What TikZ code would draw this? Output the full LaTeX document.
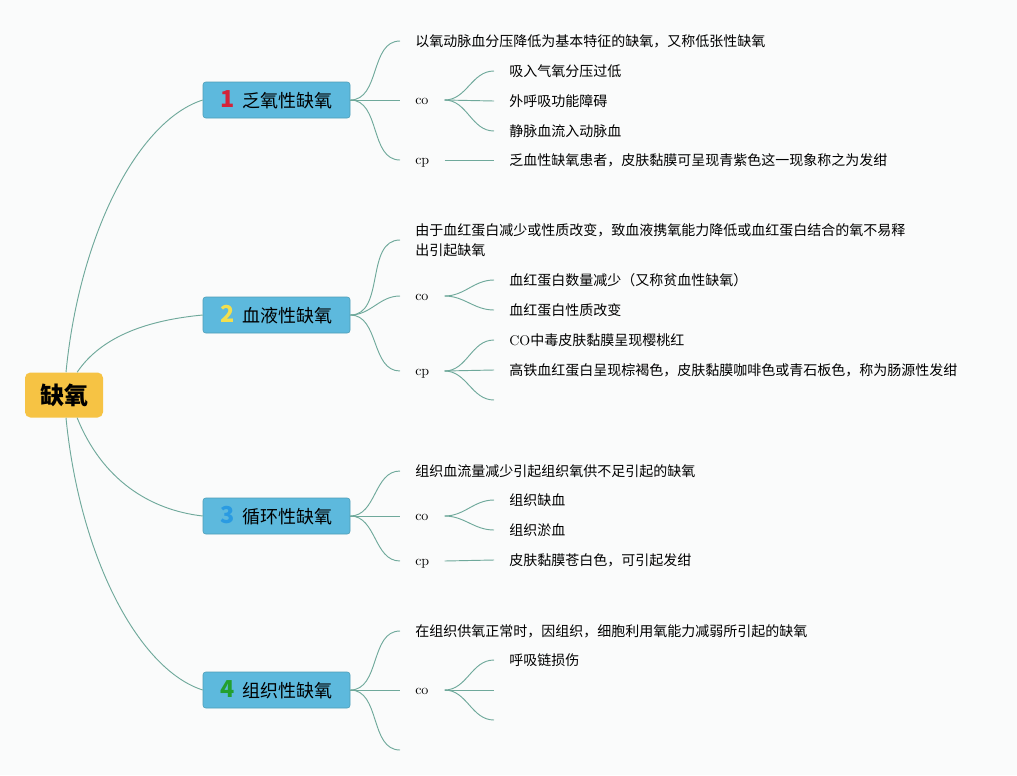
\documentclass[tikz,border=0pt]{standalone}
\usepackage{fontspec}
\newfontfamily\cjk{Noto Sans CJK SC}
\usetikzlibrary{positioning}

\definecolor{linegreen}{HTML}{6FA99B}
\definecolor{boxblue}{HTML}{5DB9DD}
\definecolor{boxedge}{HTML}{4E9DB6}
\definecolor{rootyellow}{HTML}{F6C344}
\definecolor{bgwhite}{HTML}{FAFBFB}
\definecolor{numred}{HTML}{D42339}
\definecolor{numyellow}{HTML}{F2DF4E}
\definecolor{numblue}{HTML}{2A9BE2}
\definecolor{numgreen}{HTML}{23A02F}

\begin{document}
\begin{tikzpicture}[x=0.75pt, y=-0.75pt]
		\tikzstyle{Root}   = [rectangle, rounded corners=4pt, fill=rootyellow, minimum width=58.5pt, minimum height=33.75pt, inner sep=0pt, font=\cjk\bfseries\fontsize{18}{20}\selectfont]
		\tikzstyle{Branch} = [rectangle, rounded corners=2pt, draw=boxedge, fill=boxblue, minimum width=110.25pt, minimum height=27pt, inner sep=0pt, font=\cjk\fontsize{13.5}{15}\selectfont]
		\tikzstyle{Leaf}   = [anchor=west, inner xsep=11.25pt, inner ysep=2pt, align=left, font=\cjk\fontsize{10.5}{15}\selectfont]
		\tikzstyle{Tag}    = [anchor=west, inner xsep=11.25pt, inner ysep=2pt, text width=10.5pt, text height=1.4ex, text depth=0pt, font=\fontsize{10.5}{15}\selectfont]
		\tikzstyle{Link}   = [linegreen, line width=0.7pt]
		\newcommand{\num}[2]{{\fontsize{17.5}{17.5}\selectfont\bfseries\color{#1}#2}\hspace{6.5pt}}

		\fill[bgwhite] (0,0) rectangle (1017,775);

		\node (root) at (64,395) [Root] {缺氧};
		\node (b1) at (276.5,100) [Branch] {\num{numred}{1}乏氧性缺氧};
		\node (b2) at (276.5,315) [Branch] {\num{numyellow}{2}血液性缺氧};
		\node (b3) at (276.5,516) [Branch] {\num{numblue}{3}循环性缺氧};
		\node (b4) at (276.5,690) [Branch] {\num{numgreen}{4}组织性缺氧};

		% 乏氧性缺氧
		\node (b1t) at (400,41) [Leaf] {以氧动脉血分压降低为基本特征的缺氧，又称低张性缺氧};
		\node (b1co) at (400,100) [Tag] {co};
		\node (b1cp) at (400,160) [Tag] {cp};
		\node (b1co1) at (494,71) [Leaf] {吸入气氧分压过低};
		\node (b1co2) at (494,101) [Leaf] {外呼吸功能障碍};
		\node (b1co3) at (494,131) [Leaf] {静脉血流入动脉血};
		\node (b1cp1) at (494,160) [Leaf] {乏血性缺氧患者，皮肤黏膜可呈现青紫色这一现象称之为发绀};

		% 血液性缺氧
		\node (b2t) at (400,240) [Leaf] {由于血红蛋白减少或性质改变，致血液携氧能力降低或血红蛋白结合的氧不易释\\出引起缺氧};
		\node (b2co) at (400,296) [Tag] {co};
		\node (b2cp) at (400,371) [Tag] {cp};
		\node (b2co1) at (494,280) [Leaf] {血红蛋白数量减少（又称贫血性缺氧）};
		\node (b2co2) at (494,310) [Leaf] {血红蛋白性质改变};
		\node (b2cp1) at (494,340) [Leaf] {\rmfamily CO\cjk 中毒皮肤黏膜呈现樱桃红};
		\node (b2cp2) at (494,370) [Leaf] {高铁血红蛋白呈现棕褐色，皮肤黏膜咖啡色或青石板色，称为肠源性发绀};
		\coordinate (b2cp3) at (494,400);

		% 循环性缺氧
		\node (b3t) at (400,471) [Leaf] {组织血流量减少引起组织氧供不足引起的缺氧};
		\node (b3co) at (400,516) [Tag] {co};
		\node (b3cp) at (400,561) [Tag] {cp};
		\node (b3co1) at (494,500) [Leaf] {组织缺血};
		\node (b3co2) at (494,530) [Leaf] {组织淤血};
		\node (b3cp1) at (494,560) [Leaf] {皮肤黏膜苍白色，可引起发绀};

		% 组织性缺氧
		\node (b4t) at (400,631) [Leaf] {在组织供氧正常时，因组织，细胞利用氧能力减弱所引起的缺氧};
		\node (b4co) at (400,690) [Tag] {co};
		\coordinate (b4x) at (400,750);
		\node (b4co1) at (494,660) [Leaf] {呼吸链损伤};
		\coordinate (b4co2) at (494,690);
		\coordinate (b4co3) at (494,720);

		\draw [-] (root.85) .. controls +(14,-142) and +(-63,20) .. (b1.west) [Link];
		\draw [-] (root.60) .. controls +(25,-37) and +(-53,5) .. (b2.west) [Link];
		\draw [-] (root.-60) .. controls +(25,62) and +(-53,-6) .. (b3.west) [Link];
		\draw [-] (root.-85) .. controls +(14,142) and +(-63,-20) .. (b4.west) [Link];

		\draw [-] (b1.east) to [out=0, in=180] (b1t.west) [Link];
		\draw [-] (b1.east) to (b1co.west) [Link];
		\draw [-] (b1.east) to [out=0, in=180] (b1cp.west) [Link];
		\draw [-] (b1co.east) to [out=0, in=180] (b1co1.west) [Link];
		\draw [-] (b1co.east) to (b1co2.west) [Link];
		\draw [-] (b1co.east) to [out=0, in=180] (b1co3.west) [Link];
		\draw [-] (b1cp.east) to (b1cp1.west) [Link];

		\draw [-] (b2.east) to [out=0, in=180] (b2t.west) [Link];
		\draw [-] (b2.east) to [out=0, in=180] (b2co.west) [Link];
		\draw [-] (b2.east) to [out=0, in=180] (b2cp.west) [Link];
		\draw [-] (b2co.east) to [out=0, in=180] (b2co1.west) [Link];
		\draw [-] (b2co.east) to [out=0, in=180] (b2co2.west) [Link];
		\draw [-] (b2cp.east) to [out=0, in=180] (b2cp1.west) [Link];
		\draw [-] (b2cp.east) to (b2cp2.west) [Link];
		\draw [-] (b2cp.east) to [out=0, in=180] (b2cp3) [Link];

		\draw [-] (b3.east) to [out=0, in=180] (b3t.west) [Link];
		\draw [-] (b3.east) to (b3co.west) [Link];
		\draw [-] (b3.east) to [out=0, in=180] (b3cp.west) [Link];
		\draw [-] (b3co.east) to [out=0, in=180] (b3co1.west) [Link];
		\draw [-] (b3co.east) to [out=0, in=180] (b3co2.west) [Link];
		\draw [-] (b3cp.east) to (b3cp1.west) [Link];

		\draw [-] (b4.east) to [out=0, in=180] (b4t.west) [Link];
		\draw [-] (b4.east) to (b4co.west) [Link];
		\draw [-] (b4.east) to [out=0, in=180] (b4x) [Link];
		\draw [-] (b4co.east) to [out=0, in=180] (b4co1.west) [Link];
		\draw [-] (b4co.east) to (b4co2) [Link];
		\draw [-] (b4co.east) to [out=0, in=180] (b4co3) [Link];
	\end{tikzpicture}
\end{document}
